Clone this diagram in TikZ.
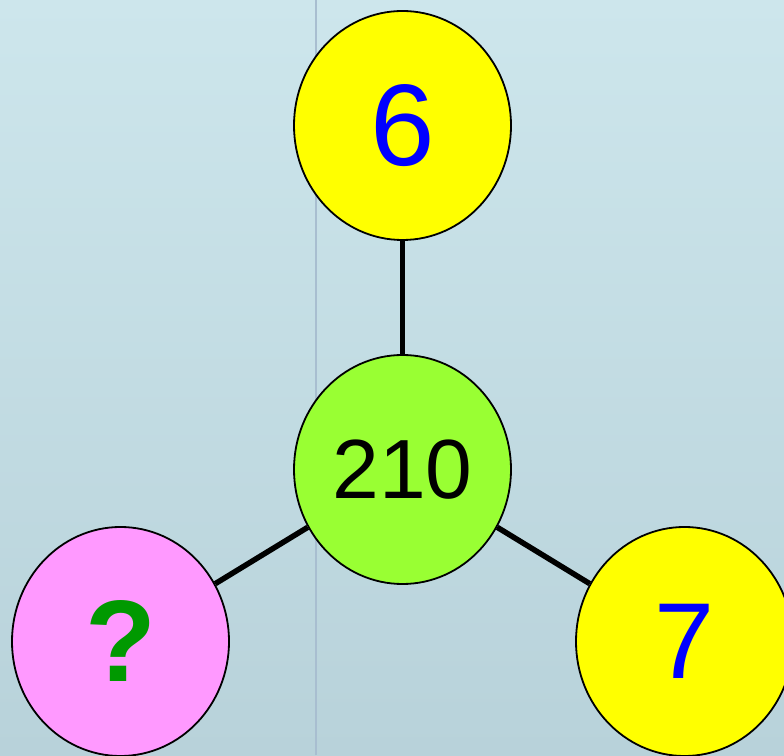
\documentclass[tikz,border=0pt]{standalone}
\usepackage{fontspec}
\setmainfont{Liberation Sans}
\usetikzlibrary{shapes.geometric}
\definecolor{bgtop}{RGB}{205,230,236}
\definecolor{bgbot}{RGB}{184,210,218}
\definecolor{sepline}{RGB}{168,190,208}
\definecolor{yel}{RGB}{255,255,0}
\definecolor{lime}{RGB}{153,255,51}
\definecolor{pinkish}{RGB}{255,153,255}
\definecolor{qgreen}{RGB}{0,153,0}
\definecolor{numblue}{RGB}{0,0,255}
\tikzset{
  bubble/.style={ellipse, draw=black, line width=1.8pt, minimum width=217pt, minimum height=229pt, inner sep=0pt},
  link/.style={line width=5.5pt, black},
}
\begin{document}
\begin{tikzpicture}[x=1pt,y=1pt]
\useasboundingbox (0,0) rectangle (784,755);
\clip (0,0) rectangle (784,755);
\shade[top color=bgtop, bottom color=bgbot] (0,0) rectangle (784,755);
\draw[sepline, line width=1.5pt] (316,0) -- (316,755);
\node[bubble, fill=yel, text=numblue, font=\fontsize{116}{116}\selectfont] (six) at (402.5,629.5) {6};
\node[bubble, fill=lime, text=black, font=\fontsize{84}{84}\selectfont] (mid) at (402.5,285.5) {210};
\node[bubble, fill=pinkish, text=qgreen, font=\fontsize{116}{116}\selectfont\bfseries] (q) at (120.5,113.5) {?};
\node[bubble, fill=yel, text=numblue, font=\fontsize{108}{108}\selectfont] (seven) at (684.5,113.5) {7};
\draw[link] (six) -- (mid);
\draw[link] (mid) -- (q);
\draw[link] (mid) -- (seven);
\end{tikzpicture}
\end{document}
